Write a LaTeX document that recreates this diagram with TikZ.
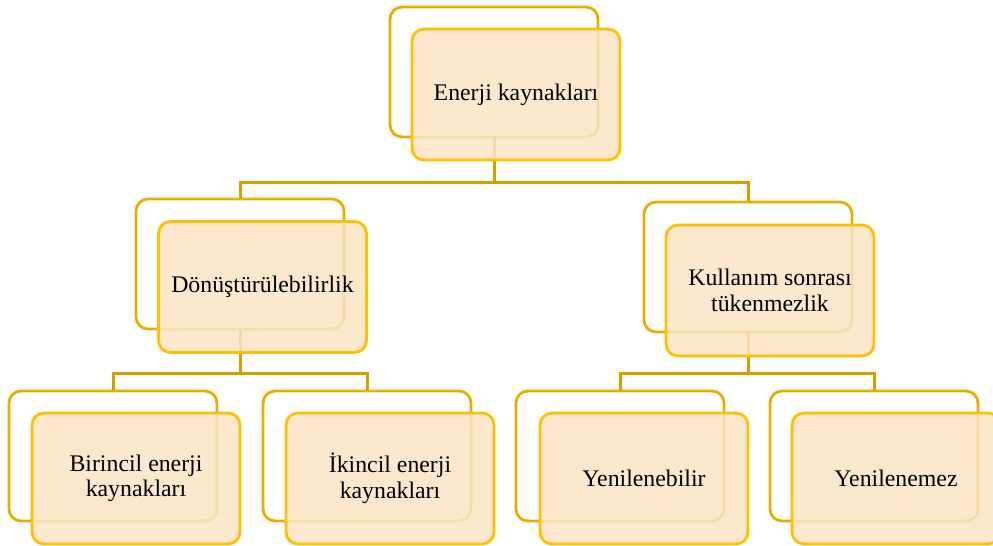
\documentclass[tikz,border=0pt]{standalone}
\usepackage{fontspec}
\setmainfont{Liberation Serif}
\usetikzlibrary{positioning,calc}
\definecolor{ekBack}{RGB}{232,174,0}
\definecolor{ekLine}{RGB}{212,160,0}
\definecolor{ekEdge}{RGB}{255,192,0}
\definecolor{ekFill}{RGB}{252,228,196}

\begin{document}
\begin{tikzpicture}[
    x=0.5pt, y=-0.5pt,
    back box/.style={rectangle, rounded corners=6pt, draw=ekBack, line width=1.4pt, fill=white, minimum width=104pt, minimum height=65pt, inner sep=0pt},
    front box/.style={rectangle, rounded corners=6pt, draw=ekEdge, line width=1.4pt, fill=ekFill, fill opacity=0.85, text opacity=1, minimum width=104pt, minimum height=65.5pt, align=center, font=\fontsize{11.9}{12.8}\selectfont},
    link/.style={draw=ekLine, line width=1.5pt}
]
  \clip (0,0) rectangle (993,546);

  % back layer
  \node[back box] (topb) at (494,72) {};
  \node[back box] (convb) at (240,264) {};
  \node[back box] (useb) at (748,267) {};
  \node[back box] (primb) at (113,456) {};
  \node[back box] (secb) at (367,456) {};
  \node[back box] (renb) at (620,456) {};
  \node[back box] (nrenb) at (874,456) {};

  % connectors
  \coordinate (j1) at (494,182);
  \coordinate (j2) at (240,373);
  \coordinate (j3) at (748,373);
  \draw[link] (topb.south) -- (j1) -| (convb.north);
  \draw[link] (j1) -| (useb.north);
  \draw[link] (convb.south) -- (j2) -| (primb.north);
  \draw[link] (j2) -| (secb.north);
  \draw[link] (useb.south) -- (j3) -| (renb.north);
  \draw[link] (j3) -| (nrenb.north);

  % front layer
  \node[front box] (top) at ($(topb)+(22,22.5)$) {Enerji kaynakları};
  \node[front box] (conv) at ($(convb)+(22.5,23)$) {Dönüştürülebilirlik};
  \node[front box] (use) at ($(useb)+(22,23.5)$) {Kullanım sonrası\\tükenmezlik};
  \node[front box] (prim) at ($(primb)+(23,22.5)$) {Birincil enerji\\kaynakları};
  \node[front box] (sec) at ($(secb)+(23,22.5)$) {İkincil enerji\\kaynakları};
  \node[front box] (ren) at ($(renb)+(24,22.5)$) {Yenilenebilir};
  \node[front box] (nren) at ($(nrenb)+(22,22.5)$) {Yenilenemez};
\end{tikzpicture}
\end{document}
